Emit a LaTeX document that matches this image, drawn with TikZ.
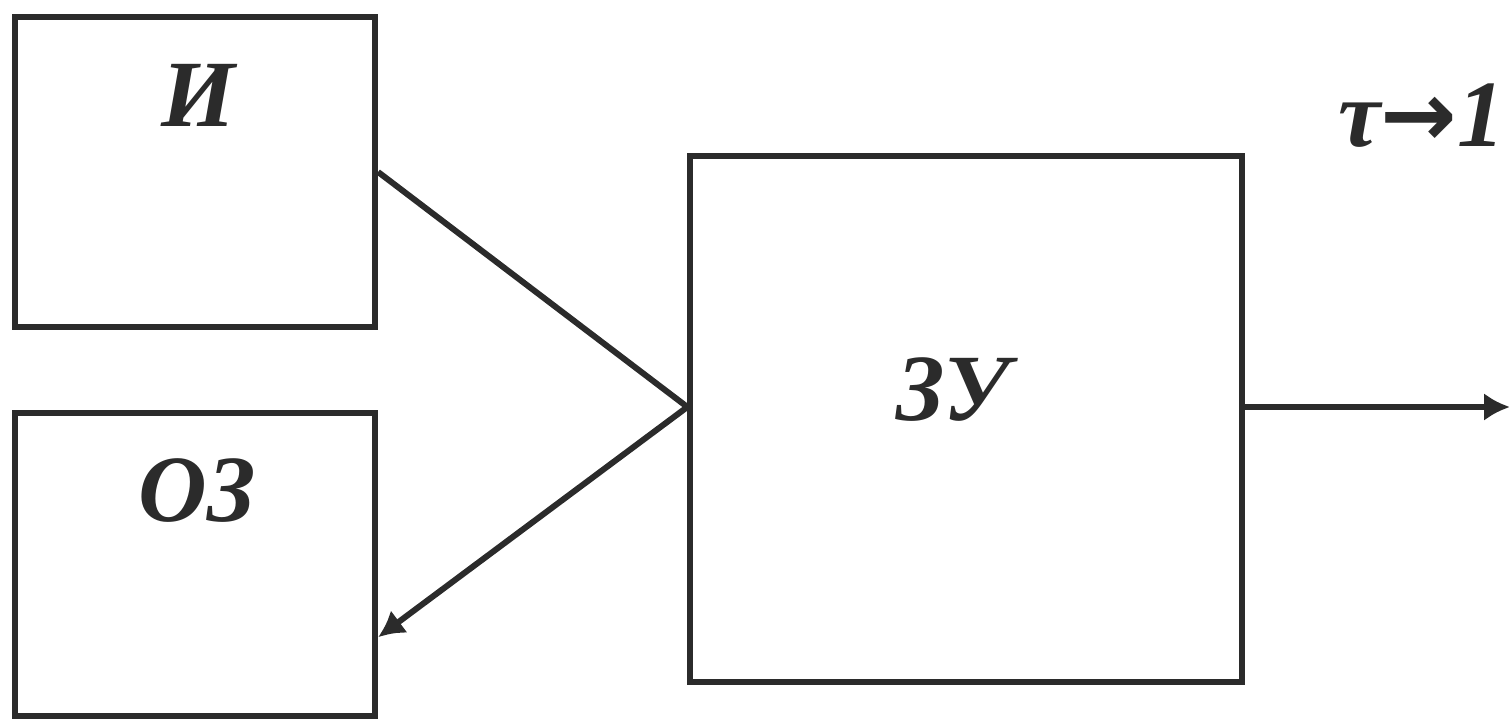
\documentclass[tikz,border=0pt]{standalone}
\usepackage{fontspec}
\setmainfont{Liberation Serif}
\newfontfamily\arrowfont{DejaVu Sans}
\usetikzlibrary{arrows.meta,positioning}
\definecolor{ink}{HTML}{2B2B2B}
\tikzset{
  every node/.style={font=\bfseries\itshape\fontsize{27}{32}\selectfont, text=ink},
  box/.style={draw=ink, line width=1.7pt, minimum width=3.6cm, inner sep=0pt},
  tag/.style={inner sep=0pt},
  line/.style={line width=1.7pt, draw=ink},
  arrow/.style={-{Latex[length=2.6mm,width=2.8mm]}, line width=1.7pt, draw=ink},
}

\begin{document}
\begin{tikzpicture}[x=0.01cm,y=-0.01cm]
\useasboundingbox (0,0) rectangle (1510,725);
\node[box, minimum height=3.09cm] (I) at (195,172) {};
\node[box, minimum height=3.03cm, below=0.8cm of I] (OZ) {};
\node[box, minimum width=5.51cm, minimum height=5.26cm] (ZU) at (966,419) {};
\node[tag] (Itxt) at (198,95) {И};
\node[tag] (OZtxt) at (197,491) {ОЗ};
\node[tag] (ZUtxt) at (953,390) {ЗУ};
\node[tag, anchor=base west] (tau) at (1338,147) {τ{\arrowfont\upshape\fontsize{26}{32}\selectfont →}1};
\coordinate (in) at ([yshift=1.2mm]ZU.west);
\coordinate (out) at (1510,407);
\draw[line](I.east)--(in);\draw[arrow](in)--([yshift=-7.3mm]OZ.east);\draw[arrow]([yshift=1.2mm]ZU.east)--(out);
\end{tikzpicture}
\end{document}
